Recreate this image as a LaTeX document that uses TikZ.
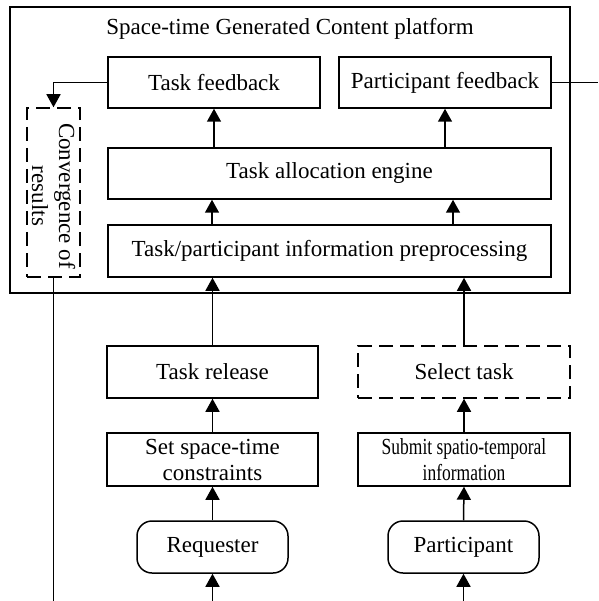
\documentclass[tikz,border=0pt]{standalone}
\usepackage{fontspec}
\setmainfont{Liberation Serif}
\usetikzlibrary{arrows.meta}
\begin{document}
\begin{tikzpicture}[x=1pt,y=-1pt,
  every node/.style={font=\fontsize{23}{26}\selectfont, inner sep=0pt, align=center},
  box/.style={draw, line width=1.5pt, minimum width=212pt, minimum height=52pt},
  dbox/.style={box, dash pattern=on 14pt off 7pt},
  rbox/.style={box, rounded corners=15pt, minimum width=151pt},
  arr/.style={line width=1.5pt, -{Triangle[width=14pt,length=13pt]}},
  ln/.style={line width=1.5pt}]
\useasboundingbox (0,0) rectangle (598,601);
% platform frame
\node[draw, line width=1.5pt, minimum width=560pt, minimum height=286pt] (platform) at (290,150) {};
\node (title) at (290,29) {Space-time Generated Content platform};
% inside platform
\node[box, minimum height=51pt] (taskfb) at (214,82.5) {Task feedback};
\node[box, minimum height=51pt] (partfb) at (445,82.5) {Participant feedback};
\node[box, minimum width=443pt, minimum height=51pt] (alloc) at (329.5,173.5) {Task allocation engine};
\node[box, minimum width=443pt] (prep) at (329.5,251) {Task/participant information preprocessing};
\node[dbox, minimum width=53pt, minimum height=169pt] (conv) at (53.5,192.5) {};
\node[rotate=-90, font=\fontsize{23}{27}\selectfont] (convtext) at (53.5,196) {Convergence of\\results};
% lower part
\node[box, minimum width=211pt] (release) at (212.5,372) {Task release};
\node[dbox] (select) at (464,372) {Select task};
\node[box, minimum width=211pt, minimum height=53pt] (setc) at (212.5,459.5) {Set space-time\\constraints};
\node[box, minimum height=53pt] (submit) at (464,459.5) {\scalebox{0.76}[1]{Submit spatio-temporal}\\\scalebox{0.76}[1]{information}};
\node[rbox] (req) at (212.5,547) {Requester};
\node[rbox] (part) at (463.5,547) {Participant};
% free ends
\coordinate (reqin) at (212.5,601);
\coordinate (partin) at (463.5,601);
\coordinate (convout) at (53.5,601);
\coordinate (partout) at (598,82.5);
\coordinate (fbcorner) at (53.5,82.5);
\coordinate (pa1) at (212,251);
\coordinate (pa2) at (453,251);
% connectors
\draw[arr] (reqin) -- (req.south);
\draw[arr] (partin) -- (part.south);
\draw[arr] (req.north) -- (setc.south);
\draw[arr] (part.north) -- (submit.south);
\draw[arr] (setc.north) -- (release.south);
\draw[arr] (submit.north) -- (select.south);
\draw[arr] (release.north) -- (release.north |- prep.south);
\draw[arr] (select.north) -- (select.north |- prep.south);
\draw[arr] (pa1 |- prep.north) -- (pa1 |- alloc.south);
\draw[arr] (pa2 |- prep.north) -- (pa2 |- alloc.south);
\draw[arr] (taskfb.south |- alloc.north) -- (taskfb.south);
\draw[arr] (partfb.south |- alloc.north) -- (partfb.south);
\draw[arr] (taskfb.west) -- (fbcorner) -- (conv.north);
\draw[ln] (conv.south) -- (convout);
\draw[ln] (partfb.east) -- (partout);
\end{tikzpicture}
\end{document}
